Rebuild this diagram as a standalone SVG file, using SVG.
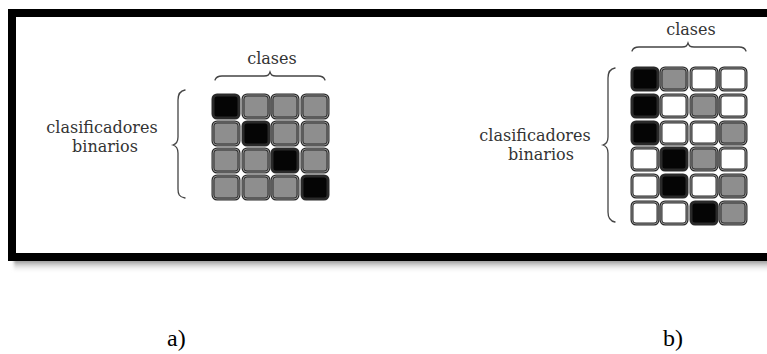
<svg xmlns="http://www.w3.org/2000/svg" width="767" height="354" viewBox="0 0 767 354">
  <style>
    .lbl { font-family: "DejaVu Serif", "Liberation Serif", serif; fill: #333; text-anchor: middle; }
    .cap { font-family: "Liberation Serif", "Times New Roman", serif; font-size: 24px; fill: #000; }
    .brace { fill: none; stroke: #444; stroke-width: 1.3; stroke-linecap: round; }
    .cell { stroke: #2a2a2a; stroke-width: 3; }
    .ring { fill: none; stroke: #9a9a9a; stroke-width: 0.9; }
    .k { fill: #050505; }
    .g { fill: #8e8e8e; }
    .w { fill: #ffffff; }
  </style>
  <defs>
    <linearGradient id="shadowGrad" x1="0" y1="0" x2="0" y2="1">
      <stop offset="0" stop-color="#777"/>
      <stop offset="1" stop-color="#fff" stop-opacity="0"/>
    </linearGradient>
    <filter id="soft" x="-5%" y="-50%" width="110%" height="200%">
      <feGaussianBlur stdDeviation="1.5"/>
    </filter>
  </defs>

  <rect width="767" height="354" fill="#fff"/>

  <!-- framed panel with soft drop shadow -->
  <g id="frame">
    <rect x="14" y="259" width="770" height="14" fill="url(#shadowGrad)" filter="url(#soft)"/>
    <rect x="12" y="13" width="770" height="244" fill="#fff" stroke="#000" stroke-width="8"/>
  </g>

  <!-- panel a: one-vs-all coding -->
  <g id="panel-a">
    <text class="lbl" x="272" y="64" font-size="16">clases</text>
    <text class="lbl" x="102" y="133" font-size="16">clasificadores</text>
    <text class="lbl" x="105" y="152" font-size="16">binarios</text>
  </g>
  <g id="grid-a">
    <!-- row 1 -->
    <rect class="cell k" x="213" y="95" width="26" height="23" rx="4"/>
    <rect class="cell g" x="243" y="95" width="26" height="23" rx="4"/>
    <rect class="cell g" x="272" y="95" width="26" height="23" rx="4"/>
    <rect class="cell g" x="302" y="95" width="26" height="23" rx="4"/>
    <!-- row 2 -->
    <rect class="cell g" x="213" y="122" width="26" height="23" rx="4"/>
    <rect class="cell k" x="243" y="122" width="26" height="23" rx="4"/>
    <rect class="cell g" x="272" y="122" width="26" height="23" rx="4"/>
    <rect class="cell g" x="302" y="122" width="26" height="23" rx="4"/>
    <!-- row 3 -->
    <rect class="cell g" x="213" y="149" width="26" height="23" rx="4"/>
    <rect class="cell g" x="243" y="149" width="26" height="23" rx="4"/>
    <rect class="cell k" x="272" y="149" width="26" height="23" rx="4"/>
    <rect class="cell g" x="302" y="149" width="26" height="23" rx="4"/>
    <!-- row 4 -->
    <rect class="cell g" x="213" y="176" width="26" height="23" rx="4"/>
    <rect class="cell g" x="243" y="176" width="26" height="23" rx="4"/>
    <rect class="cell g" x="272" y="176" width="26" height="23" rx="4"/>
    <rect class="cell k" x="302" y="176" width="26" height="23" rx="4"/>
  </g>

  <!-- panel b: one-vs-one coding -->
  <g id="panel-b">
    <text class="lbl" x="691" y="35" font-size="16">clases</text>
    <text class="lbl" x="535" y="141" font-size="16">clasificadores</text>
    <text class="lbl" x="541" y="160" font-size="16">binarios</text>
  </g>
  <g id="grid-b">
    <!-- row 1 -->
    <rect class="cell k" x="632" y="68" width="26" height="22" rx="4"/>
    <rect class="cell g" x="661" y="68" width="26" height="22" rx="4"/>
    <rect class="cell w" x="691" y="68" width="26" height="22" rx="4"/>
    <rect class="cell w" x="720" y="68" width="26" height="22" rx="4"/>
    <!-- row 2 -->
    <rect class="cell k" x="632" y="95" width="26" height="22" rx="4"/>
    <rect class="cell w" x="661" y="95" width="26" height="22" rx="4"/>
    <rect class="cell g" x="691" y="95" width="26" height="22" rx="4"/>
    <rect class="cell w" x="720" y="95" width="26" height="22" rx="4"/>
    <!-- row 3 -->
    <rect class="cell k" x="632" y="122" width="26" height="22" rx="4"/>
    <rect class="cell w" x="661" y="122" width="26" height="22" rx="4"/>
    <rect class="cell w" x="691" y="122" width="26" height="22" rx="4"/>
    <rect class="cell g" x="720" y="122" width="26" height="22" rx="4"/>
    <!-- row 4 -->
    <rect class="cell w" x="632" y="148" width="26" height="22" rx="4"/>
    <rect class="cell k" x="661" y="148" width="26" height="22" rx="4"/>
    <rect class="cell g" x="691" y="148" width="26" height="22" rx="4"/>
    <rect class="cell w" x="720" y="148" width="26" height="22" rx="4"/>
    <!-- row 5 -->
    <rect class="cell w" x="632" y="175" width="26" height="22" rx="4"/>
    <rect class="cell k" x="661" y="175" width="26" height="22" rx="4"/>
    <rect class="cell w" x="691" y="175" width="26" height="22" rx="4"/>
    <rect class="cell g" x="720" y="175" width="26" height="22" rx="4"/>
    <!-- row 6 -->
    <rect class="cell w" x="632" y="202" width="26" height="22" rx="4"/>
    <rect class="cell w" x="661" y="202" width="26" height="22" rx="4"/>
    <rect class="cell k" x="691" y="202" width="26" height="22" rx="4"/>
    <rect class="cell g" x="720" y="202" width="26" height="22" rx="4"/>
  </g>

  <!-- light inner rings on the non-black cells -->
  <g id="rings">
    <rect class="ring" x="243" y="95" width="26" height="23" rx="4"/>
    <rect class="ring" x="272" y="95" width="26" height="23" rx="4"/>
    <rect class="ring" x="302" y="95" width="26" height="23" rx="4"/>
    <rect class="ring" x="213" y="122" width="26" height="23" rx="4"/>
    <rect class="ring" x="272" y="122" width="26" height="23" rx="4"/>
    <rect class="ring" x="302" y="122" width="26" height="23" rx="4"/>
    <rect class="ring" x="213" y="149" width="26" height="23" rx="4"/>
    <rect class="ring" x="243" y="149" width="26" height="23" rx="4"/>
    <rect class="ring" x="302" y="149" width="26" height="23" rx="4"/>
    <rect class="ring" x="213" y="176" width="26" height="23" rx="4"/>
    <rect class="ring" x="243" y="176" width="26" height="23" rx="4"/>
    <rect class="ring" x="272" y="176" width="26" height="23" rx="4"/>
    <rect class="ring" x="661" y="68" width="26" height="22" rx="4"/>
    <rect class="ring" x="691" y="68" width="26" height="22" rx="4"/>
    <rect class="ring" x="720" y="68" width="26" height="22" rx="4"/>
    <rect class="ring" x="661" y="95" width="26" height="22" rx="4"/>
    <rect class="ring" x="691" y="95" width="26" height="22" rx="4"/>
    <rect class="ring" x="720" y="95" width="26" height="22" rx="4"/>
    <rect class="ring" x="661" y="122" width="26" height="22" rx="4"/>
    <rect class="ring" x="691" y="122" width="26" height="22" rx="4"/>
    <rect class="ring" x="720" y="122" width="26" height="22" rx="4"/>
    <rect class="ring" x="632" y="148" width="26" height="22" rx="4"/>
    <rect class="ring" x="691" y="148" width="26" height="22" rx="4"/>
    <rect class="ring" x="720" y="148" width="26" height="22" rx="4"/>
    <rect class="ring" x="632" y="175" width="26" height="22" rx="4"/>
    <rect class="ring" x="691" y="175" width="26" height="22" rx="4"/>
    <rect class="ring" x="720" y="175" width="26" height="22" rx="4"/>
    <rect class="ring" x="632" y="202" width="26" height="22" rx="4"/>
    <rect class="ring" x="661" y="202" width="26" height="22" rx="4"/>
    <rect class="ring" x="720" y="202" width="26" height="22" rx="4"/>
  </g>

  <!-- braces -->
  <g id="connectors">
    <path class="brace" d="M215,80 C216,77 218,76 222,76 L264,76 C268,76 269,75 270,72 C271,75 272,76 276,76 L318,76 C322,76 324,77 325,80"/>
    <path class="brace" d="M185,90 C179,91 178,95 178,100 L178,137 C178,142 176,144 173,145 C176,146 178,148 178,153 L178,189 C178,194 179,197 185,198"/>
    <path class="brace" d="M632,51 C633,48 635,47 639,47 L682,47 C686,47 687,46 688,43 C689,46 690,47 694,47 L739,47 C743,47 745,48 746,51"/>
    <path class="brace" d="M615,68 C609,69 608,73 608,78 L608,137 C608,142 606,144 603,145 C606,146 608,148 608,153 L608,212 C608,217 609,221 615,222"/>
  </g>

  <!-- sub-figure captions -->
  <text class="cap" x="167" y="346">a)</text>
  <text class="cap" x="663" y="346">b)</text>
</svg>
